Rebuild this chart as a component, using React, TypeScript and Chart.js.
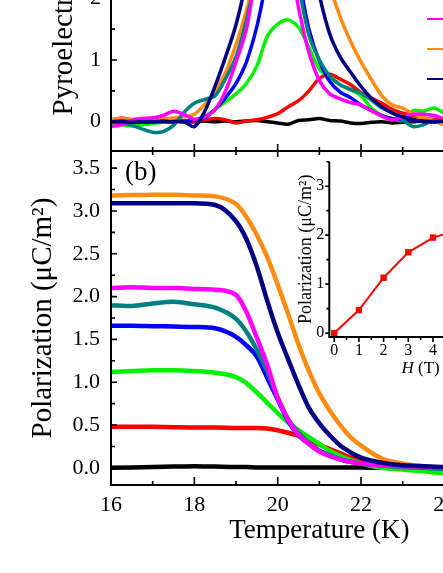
import React, { useEffect, useRef } from 'react';
import { Chart, registerables } from 'chart.js';

Chart.register(...registerables);

const FONT = "'Liberation Serif', 'Times New Roman', serif";

// ---------- Panel (a): pyroelectric current vs temperature ----------
const tempA = [16, 16.25, 16.5, 16.75, 17, 17.25, 17.5, 17.75, 18, 18.25, 18.5, 18.75, 19, 19.25, 19.5, 19.75, 20, 20.25, 20.5, 20.75, 21, 21.25, 21.5, 21.75, 22, 22.25, 22.5, 22.75, 23, 23.25, 23.5, 23.75, 24, 24.25];
const pyro0T = [0.00, 0.01, 0.01, 0.00, -0.01, 0.00, 0.01, 0.00, 0.00, 0.01, 0.00, 0.01, 0.00, 0.01, 0.02, 0.00, -0.02, -0.04, 0.02, 0.03, 0.05, 0.02, 0.01, -0.02, -0.03, -0.01, 0.00, -0.02, -0.01, 0.00, 0.01, 0.00, 0.00, 0.00];
const pyro1T = [0.02, 0.06, 0.03, 0.00, 0.01, 0.00, 0.02, 0.00, 0.01, 0.03, 0.05, 0.03, -0.02, 0.01, 0.03, 0.07, 0.13, 0.24, 0.34, 0.50, 0.70, 0.77, 0.69, 0.60, 0.47, 0.38, 0.30, 0.20, 0.14, 0.10, 0.06, 0.04, 0.02, 0.01];
const pyro2T = [-0.03, -0.05, -0.07, -0.05, -0.03, -0.01, 0.00, 0.01, 0.03, 0.09, 0.20, 0.32, 0.45, 0.62, 0.90, 1.38, 1.58, 1.65, 1.53, 1.20, 0.85, 0.72, 0.60, 0.52, 0.42, 0.22, 0.10, 0.05, 0.02, 0.18, 0.17, 0.22, 0.14, 0.10];
const pyro3T = [0.00, 0.01, 0.00, -0.01, 0.00, 0.01, 0.00, 0.01, 0.02, 0.06, 0.20, 0.39, 0.62, 0.97, 1.54, 2.30, 2.70, 2.75, 2.30, 1.50, 0.98, 0.65, 0.48, 0.39, 0.27, 0.18, 0.10, 0.05, 0.03, 0.02, 0.01, 0.00, 0.01, 0.00];
const pyro4T = [0.00, -0.02, -0.06, -0.12, -0.17, -0.16, -0.06, 0.15, 0.30, 0.36, 0.42, 0.70, 1.05, 1.65, 2.40, 3.00, 3.20, 2.95, 2.20, 1.40, 1.00, 0.74, 0.60, 0.52, 0.46, 0.35, 0.22, 0.15, 0.03, -0.08, -0.05, 0.02, 0.00, 0.00];
const pyro5T = [-0.08, -0.05, 0.02, 0.05, 0.06, 0.10, 0.17, 0.12, 0.04, 0.08, 0.20, 0.50, 0.97, 1.50, 2.50, 3.30, 3.40, 2.80, 1.85, 1.12, 0.67, 0.45, 0.37, 0.31, 0.27, 0.18, 0.09, 0.03, 0.07, 0.12, 0.12, 0.10, 0.05, 0.03];
const pyro6T = [0.04, 0.05, 0.04, 0.05, 0.06, 0.05, 0.06, 0.08, 0.12, 0.28, 0.50, 0.80, 1.25, 1.80, 2.40, 2.90, 3.20, 3.40, 3.40, 3.20, 2.80, 2.20, 1.70, 1.30, 0.97, 0.68, 0.42, 0.27, 0.22, 0.13, 0.06, 0.02, -0.05, -0.05];
const pyro7T = [0.00, 0.00, -0.01, 0.00, 0.00, 0.00, 0.00, 0.00, -0.08, 0.17, 0.58, 1.05, 1.57, 2.30, 3.20, 3.90, 4.20, 4.10, 3.70, 2.90, 2.05, 1.42, 1.05, 0.80, 0.57, 0.38, 0.24, 0.14, 0.08, 0.04, 0.00, 0.00, 0.01, 0.00];

// ---------- Panel (b): polarization vs temperature ----------
const tempB = [16, 16.5, 17, 17.5, 18, 18.5, 19, 19.25, 19.5, 19.75, 20, 20.25, 20.5, 20.75, 21, 21.25, 21.5, 21.75, 22, 22.5, 23, 23.5, 24, 25, 26];
const pol0T = [0.00, 0.005, 0.01, 0.015, 0.02, 0.015, 0.01, 0.01, 0.005, 0.005, 0.005, 0.005, 0.005, 0.005, 0.005, 0.005, 0.005, 0.005, 0.005, 0.0, 0.0, 0.0, -0.01, -0.01, -0.01];
const pol1T = [0.48, 0.48, 0.48, 0.475, 0.47, 0.47, 0.465, 0.465, 0.465, 0.46, 0.44, 0.41, 0.375, 0.33, 0.27, 0.22, 0.17, 0.12, 0.08, 0.04, 0.02, 0.01, 0.0, 0.0, 0.0];
const pol2T = [1.12, 1.13, 1.14, 1.14, 1.13, 1.11, 1.06, 0.99, 0.88, 0.76, 0.64, 0.53, 0.44, 0.36, 0.28, 0.20, 0.14, 0.09, 0.05, 0.0, -0.02, -0.04, -0.06, -0.08, -0.10];
const pol3T = [1.66, 1.66, 1.655, 1.65, 1.645, 1.63, 1.53, 1.43, 1.30, 1.05, 0.80, 0.55, 0.38, 0.28, 0.20, 0.14, 0.10, 0.07, 0.05, 0.03, 0.02, 0.01, 0.0, 0.0, 0.0];
const pol4T = [1.90, 1.89, 1.92, 1.94, 1.91, 1.87, 1.74, 1.59, 1.38, 1.13, 0.82, 0.57, 0.41, 0.29, 0.20, 0.15, 0.10, 0.07, 0.05, 0.03, 0.01, 0.0, -0.01, -0.01, -0.01];
const pol5T = [2.10, 2.11, 2.10, 2.10, 2.09, 2.08, 2.02, 1.82, 1.52, 1.20, 0.82, 0.56, 0.39, 0.28, 0.19, 0.14, 0.10, 0.07, 0.05, 0.03, 0.02, 0.01, 0.0, 0.0, 0.0];
const pol6T = [3.18, 3.185, 3.19, 3.19, 3.18, 3.17, 3.08, 2.93, 2.72, 2.46, 2.14, 1.80, 1.44, 1.13, 0.87, 0.67, 0.50, 0.36, 0.26, 0.11, 0.05, 0.02, 0.0, 0.0, 0.0];
const pol7T = [3.09, 3.09, 3.09, 3.09, 3.09, 3.07, 2.88, 2.67, 2.35, 1.95, 1.58, 1.27, 0.97, 0.70, 0.52, 0.38, 0.26, 0.18, 0.12, 0.06, 0.03, 0.02, 0.01, 0.0, 0.0];

// ---------- Inset: polarization vs field ----------
const fieldH = [0, 1, 2, 3, 4, 5, 6, 7];
const polVsH = [0, 0.47, 1.13, 1.65, 1.95, 2.1, 3.18, 3.08];

// ---------- Series styling / labels ----------
const seriesLabels = ['0 T', '1 T', '2 T', '3 T', '4 T', '5 T', '6 T', '7 T'];
const seriesColors = ['#000000', '#ff0000', '#00f000', '#0000ff', '#008080', '#ff00ff', '#ff8c10', '#000080'];
const drawOrder = [7, 5, 4, 3, 6, 2, 1, 0]; // first = drawn on top

// ---------- Ticks ----------
const tMajor = [16, 18, 20, 22, 24, 26];
const tMinor = [17, 19, 21, 23, 25];
const yMajorA = [0, 1, 2, 3, 4, 5];
const yMinorA = [0.5, 1.5, 2.5, 3.5, 4.5];
const yMajorB = [0, 0.5, 1, 1.5, 2, 2.5, 3, 3.5];
const yMinorB = [0.25, 0.75, 1.25, 1.75, 2.25, 2.75, 3.25];
const hMajor = [0, 1, 2, 3, 4, 5, 6, 7];
const hMinor = [0.5, 1.5, 2.5, 3.5, 4.5, 5.5, 6.5];
const pMajorInset = [0, 1, 2, 3];
const pMinorInset = [0.5, 1.5, 2.5, 3.5];

type TickSpec = { scale: string; edge: 'top' | 'bottom' | 'left' | 'right'; majors: number[]; minors: number[]; majLen: number; minLen: number };
type DecoSpec = { edges: string[]; ticks: TickSpec[]; extra?: (chart: any, ctx: CanvasRenderingContext2D) => void };

function makeDeco(spec: DecoSpec) {
  return {
    id: 'deco',
    afterDraw(chart: any) {
      const ctx: CanvasRenderingContext2D = chart.ctx;
      const a = chart.chartArea;
      ctx.save();
      ctx.strokeStyle = '#000';
      ctx.lineWidth = 2;
      ctx.beginPath();
      for (const e of spec.edges) {
        if (e === 'left') { ctx.moveTo(a.left, a.top); ctx.lineTo(a.left, a.bottom + 1); }
        if (e === 'right') { ctx.moveTo(a.right, a.top); ctx.lineTo(a.right, a.bottom); }
        if (e === 'top') { ctx.moveTo(a.left, a.top); ctx.lineTo(a.right, a.top); }
        if (e === 'bottom') { ctx.moveTo(a.left - 1, a.bottom); ctx.lineTo(a.right, a.bottom); }
      }
      ctx.stroke();
      ctx.lineWidth = 1.6;
      ctx.beginPath();
      for (const t of spec.ticks) {
        const sc = chart.scales[t.scale];
        const one = (v: number, len: number) => {
          const p = sc.getPixelForValue(v);
          if (t.edge === 'bottom') { ctx.moveTo(p, a.bottom); ctx.lineTo(p, a.bottom - len); }
          if (t.edge === 'top') { ctx.moveTo(p, a.top); ctx.lineTo(p, a.top + len); }
          if (t.edge === 'left') { ctx.moveTo(a.left, p); ctx.lineTo(a.left + len, p); }
          if (t.edge === 'right') { ctx.moveTo(a.right, p); ctx.lineTo(a.right - len, p); }
        };
        t.majors.forEach((v) => one(v, t.majLen));
        t.minors.forEach((v) => one(v, t.minLen));
      }
      ctx.stroke();
      if (spec.extra) spec.extra(chart, ctx);
      ctx.restore();
    },
  };
}

const TOP_OFFSET = -230;
const BOT_OFFSET = 140;
const noGrid = { display: false, drawTicks: false, tickLength: 0 };

function App() {
  const topRef = useRef<HTMLCanvasElement>(null);
  const botRef = useRef<HTMLCanvasElement>(null);
  const insRef = useRef<HTMLCanvasElement>(null);

  useEffect(() => {
    Chart.defaults.font.family = FONT;
    Chart.defaults.color = '#000';

    const pyro = [pyro0T, pyro1T, pyro2T, pyro3T, pyro4T, pyro5T, pyro6T, pyro7T];
    const pol = [pol0T, pol1T, pol2T, pol3T, pol4T, pol5T, pol6T, pol7T];

    const topChart = new Chart(topRef.current!, {
      type: 'line',
      data: {
        datasets: drawOrder.map((k) => ({
          label: seriesLabels[k],
          data: tempA.map((t, i) => ({ x: t, y: pyro[k][i] })),
          borderColor: seriesColors[k],
          borderWidth: 3.5,
          pointRadius: 0,
          tension: 0.3,
          fill: false,
        })),
      },
      options: {
        animation: false,
        responsive: false,
        devicePixelRatio: 1,
        layout: { padding: { top: 18.5, right: 32.3, left: 0, bottom: 0 } },
        plugins: { legend: { display: false }, tooltip: { enabled: false } },
        scales: {
          x: { type: 'linear', min: 16, max: 26, display: false },
          y: {
            type: 'linear', min: -0.475, max: 5.4,
            grid: noGrid, border: { display: false },
            afterBuildTicks: (s: any) => { s.ticks = yMajorA.map((v) => ({ value: v })); },
            afterFit: (s: any) => { s.width = 111; s.paddingTop = 0; s.paddingBottom = 0; },
            ticks: { autoSkip: false, padding: 10, font: { size: 22, family: FONT }, color: '#000', callback: (v: any) => String(v) },
            title: { display: true, text: 'Pyroelectric current (pA)', font: { size: 29, family: FONT }, color: '#000', padding: { top: 47, bottom: 0 } },
          },
        },
      },
      plugins: [makeDeco({
        edges: ['left', 'bottom', 'top', 'right'],
        ticks: [
          { scale: 'x', edge: 'bottom', majors: tMajor, minors: tMinor, majLen: 7, minLen: 4 },
          { scale: 'y', edge: 'left', majors: yMajorA, minors: yMinorA, majLen: 6, minLen: 4 },
        ],
        extra: (chart, ctx) => {
          ctx.lineWidth = 2;
          for (let i = 0; i < seriesColors.length; i++) {
            const y = 19 + (i - 5) * 30 - TOP_OFFSET;
            ctx.strokeStyle = seriesColors[i];
            ctx.beginPath();
            ctx.moveTo(427, y);
            ctx.lineTo(468, y);
            ctx.stroke();
          }
        },
      }) as any],
    } as any);

    const botChart = new Chart(botRef.current!, {
      type: 'line',
      data: {
        datasets: drawOrder.map((k) => ({
          label: seriesLabels[k],
          data: tempB.map((t, i) => ({ x: t, y: pol[k][i] })),
          borderColor: seriesColors[k],
          borderWidth: 4.5,
          pointRadius: 0,
          cubicInterpolationMode: 'monotone',
          fill: false,
        })),
      },
      options: {
        animation: false,
        responsive: false,
        devicePixelRatio: 1,
        layout: { padding: { top: 11, right: 32.3, left: 0, bottom: 0 } },
        plugins: { legend: { display: false }, tooltip: { enabled: false } },
        scales: {
          x: {
            type: 'linear', min: 16, max: 26,
            grid: noGrid, border: { display: false },
            afterBuildTicks: (s: any) => { s.ticks = tMajor.map((v) => ({ value: v })); },
            afterFit: (s: any) => { s.height = 88; s.paddingLeft = 0; s.paddingRight = 0; },
            ticks: { autoSkip: false, maxRotation: 0, padding: 7, font: { size: 22, family: FONT }, color: '#000', callback: (v: any) => String(v) },
            title: { display: true, text: 'Temperature (K)', font: { size: 27, family: FONT }, color: '#000', padding: { top: 0, bottom: 26 } },
          },
          y: {
            type: 'linear', min: -0.2, max: 3.7,
            grid: noGrid, border: { display: false },
            afterBuildTicks: (s: any) => { s.ticks = yMajorB.map((v) => ({ value: v })); },
            afterFit: (s: any) => { s.width = 111; s.paddingTop = 0; s.paddingBottom = 0; },
            ticks: { autoSkip: false, padding: 11, font: { size: 22, family: FONT }, color: '#000', callback: (v: any) => Number(v).toFixed(1) },
            title: { display: true, text: 'Polarization (\u03bcC/m\u00b2)', font: { size: 29, family: FONT }, color: '#000', padding: { top: 26, bottom: 0 } },
          },
        },
      },
      plugins: [makeDeco({
        edges: ['left', 'bottom', 'top', 'right'],
        ticks: [
          { scale: 'x', edge: 'bottom', majors: tMajor, minors: tMinor, majLen: 8, minLen: 4 },
          { scale: 'x', edge: 'top', majors: tMajor, minors: tMinor, majLen: 6, minLen: 4 },
          { scale: 'y', edge: 'left', majors: yMajorB, minors: yMinorB, majLen: 6, minLen: 4 },
        ],
        extra: (chart, ctx) => {
          ctx.fillStyle = '#000';
          ctx.font = `27px ${FONT}`;
          ctx.textBaseline = 'alphabetic';
          ctx.textAlign = 'left';
          ctx.fillText('(b)', 125, 180 - BOT_OFFSET);
        },
      }) as any],
    } as any);

    const insChart = new Chart(insRef.current!, {
      type: 'line',
      data: {
        datasets: [{
          label: 'P(H)',
          data: fieldH.map((h, i) => ({ x: h, y: polVsH[i] })),
          borderColor: '#ff0000',
          backgroundColor: '#ff0000',
          borderWidth: 2,
          pointStyle: 'rect',
          pointRadius: 4.5,
          pointBorderWidth: 0,
          tension: 0,
          clip: false,
        }],
      },
      options: {
        animation: false,
        responsive: false,
        devicePixelRatio: 1,
        layout: { padding: { top: 11.7, right: 28, left: 0, bottom: 0 } },
        plugins: { legend: { display: false }, tooltip: { enabled: false } },
        scales: {
          x: {
            type: 'linear', min: -0.2, max: 7.2,
            grid: noGrid, border: { display: false },
            afterBuildTicks: (s: any) => { s.ticks = hMajor.map((v) => ({ value: v })); },
            afterFit: (s: any) => { s.height = 53; s.paddingLeft = 0; s.paddingRight = 0; },
            ticks: { autoSkip: false, maxRotation: 0, padding: 4, font: { size: 16, family: FONT }, color: '#000', callback: (v: any) => String(v) },
            title: { display: false },
          },
          y: {
            type: 'linear', min: -0.08, max: 3.5,
            grid: noGrid, border: { display: false },
            afterBuildTicks: (s: any) => { s.ticks = pMajorInset.map((v) => ({ value: v })); },
            afterFit: (s: any) => { s.width = 49.3; s.paddingTop = 0; s.paddingBottom = 0; },
            ticks: { autoSkip: false, padding: 5, font: { size: 16, family: FONT }, color: '#000', callback: (v: any) => String(v) },
            title: { display: true, text: 'Polarization (\u03bcC/m\u00b2)', font: { size: 18, family: FONT }, color: '#000', padding: { top: 15, bottom: 0 } },
          },
        },
      },
      plugins: [makeDeco({
        edges: ['left', 'bottom'],
        ticks: [
          { scale: 'x', edge: 'bottom', majors: hMajor, minors: hMinor, majLen: -5, minLen: -3 },
          { scale: 'y', edge: 'left', majors: pMajorInset, minors: pMinorInset, majLen: -4, minLen: -3 },
        ],
        extra: (chart, ctx) => {
          const a = chart.chartArea;
          const cx = (a.left + a.right) / 2;
          const cy = a.bottom + 32;
          ctx.fillStyle = '#000';
          ctx.textBaseline = 'middle';
          ctx.textAlign = 'left';
          ctx.font = `italic 17px ${FONT}`;
          const w1 = ctx.measureText('H').width;
          ctx.font = `17px ${FONT}`;
          const w2 = ctx.measureText(' (T)').width;
          const x0 = cx - (w1 + w2) / 2;
          ctx.font = `italic 17px ${FONT}`;
          ctx.fillText('H', x0, cy);
          ctx.font = `17px ${FONT}`;
          ctx.fillText(' (T)', x0 + w1, cy);
        },
      }) as any],
    } as any);

    return () => {
      topChart.destroy();
      botChart.destroy();
      insChart.destroy();
    };
  }, []);

  return (
    <div style={{ position: 'fixed', left: 0, top: 0, width: 443, height: 573, overflow: 'hidden', background: '#fff' }}>
      <canvas ref={topRef} width={560} height={381} style={{ position: 'absolute', left: 0, top: TOP_OFFSET, width: 560, height: 381 }} />
      <canvas ref={botRef} width={560} height={433} style={{ position: 'absolute', left: 0, top: BOT_OFFSET, width: 560, height: 433 }} />
      <canvas ref={insRef} width={260} height={240} style={{ position: 'absolute', left: 280, top: 150, width: 260, height: 240 }} />
    </div>
  );
}

export default App;
